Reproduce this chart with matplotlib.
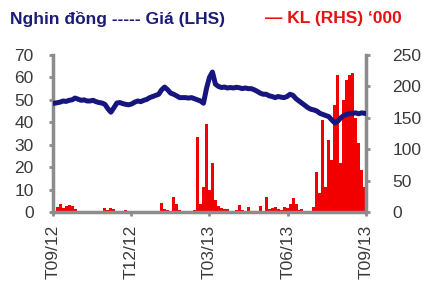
import matplotlib
matplotlib.use("Agg")
import matplotlib.pyplot as plt
import numpy as np

plt.rcParams['font.family'] = ['Liberation Sans', 'DejaVu Sans']

tick_labels = ["T09/12", "T12/12", "T03/13", "T06/13", "T09/13"]

price = [48.5, 48.7, 49.0, 49.5, 49.3, 49.8, 50.0, 50.8, 50.3, 49.8,
         50.0, 49.5, 49.5, 49.8, 49.2, 48.8, 48.6, 48.0, 46.0, 44.5,
         46.5, 48.6, 48.8, 48.3, 48.0, 47.8, 48.2, 49.0, 49.5, 49.2,
         49.8, 50.2, 51.0, 51.5, 52.0, 52.5, 54.5, 55.7, 54.5, 53.0,
         52.5, 51.8, 51.0, 51.0, 51.0, 50.8, 51.0, 50.5, 50.0, 49.5,
         48.5, 55.0, 60.0, 62.4, 57.0, 56.0, 55.5, 55.7, 55.3, 55.5,
         55.3, 55.6, 55.4, 55.0, 55.3, 55.0, 55.0, 54.5, 53.8, 53.0,
         52.5, 52.5, 51.8, 51.5, 51.0, 51.5, 51.2, 51.0, 51.5, 52.5,
         52.0, 50.5, 49.5, 48.5, 47.5, 46.5, 45.8, 45.5, 45.0, 44.0,
         43.5, 43.0, 42.5, 41.0, 39.7, 40.5, 42.0, 43.0, 43.5, 44.0,
         44.0, 44.2, 43.8, 44.2, 44.0]

volume = [2, 8, 12, 6, 10, 11, 9, 4, 0, 1,
          0, 0, 0, 2, 0, 0, 0, 7, 3, 6,
          4, 1, 0, 0, 3, 0, 0, 0, 0, 0,
          0, 0, 0, 0, 0, 1, 14, 5, 3, 2,
          24, 12, 3, 0, 0, 1, 2, 3, 120, 12,
          40, 140, 35, 78, 19, 10, 6, 5, 5, 2,
          0, 3, 11, 3, 1, 8, 0, 0, 2, 10,
          0, 24, 4, 6, 8, 5, 3, 8, 6, 12,
          22, 12, 3, 5, 0, 1, 0, 8, 64, 30,
          146, 40, 115, 83, 170, 218, 78, 178, 210, 218,
          221, 150, 110, 67, 40]

n = len(price)
x = np.arange(n)

fig = plt.figure(figsize=(4.22, 2.91), dpi=100)
ax = fig.add_axes([0.1256, 0.2715, 0.7414, 0.5395])
ax2 = ax.twinx()

ax2.bar(x, volume, width=1.0, color='#f20000', edgecolor='none', zorder=1)
ax.plot(x, price, color='#16167e', linewidth=3.6, solid_joinstyle='round', zorder=3)

ax.set_zorder(ax2.get_zorder() + 1)
ax.patch.set_visible(False)

xmin, xmax = -0.4, n - 0.6
ax.set_xlim(xmin, xmax)
ax.set_ylim(0, 70)
ax2.set_ylim(0, 250)
ax.set_yticks(np.arange(0, 71, 10))
ax2.set_yticks(np.arange(0, 251, 50))
ax.set_xticks(np.linspace(xmin, xmax, len(tick_labels)))
ax.set_xticklabels(tick_labels, rotation=90, va='top', ha='center')

spine_col = '#8c8c8c'
for a in (ax, ax2):
    for s in a.spines.values():
        s.set_visible(False)
ax.spines['left'].set_visible(True)
ax.spines['bottom'].set_visible(True)
ax2.spines['right'].set_visible(True)
for s in (ax.spines['left'], ax.spines['bottom'], ax2.spines['right']):
    s.set_color(spine_col)
    s.set_linewidth(2.5)

ax.tick_params(axis='y', direction='out', length=3, width=2, color=spine_col,
               labelsize=12.5, labelcolor='#3a3a3a', pad=11)
ax.tick_params(axis='x', direction='out', length=3, width=2, color=spine_col,
               labelsize=12.5, labelcolor='#3a3a3a', pad=6)
ax2.tick_params(axis='y', direction='out', length=3, width=2, color=spine_col,
                labelsize=12.5, labelcolor='#3a3a3a', pad=16)

fig.text(0.024, 0.935, "Nghin đồng ----- Giá (LHS)", color='#1c1c78',
         fontsize=12.5, fontweight='bold', va='center', ha='left')
fig.text(0.628, 0.935, "— KL (RHS) ‘000", color='#e81010',
         fontsize=12.5, fontweight='bold', va='center', ha='left')

fig.savefig("out.png", dpi=100)
